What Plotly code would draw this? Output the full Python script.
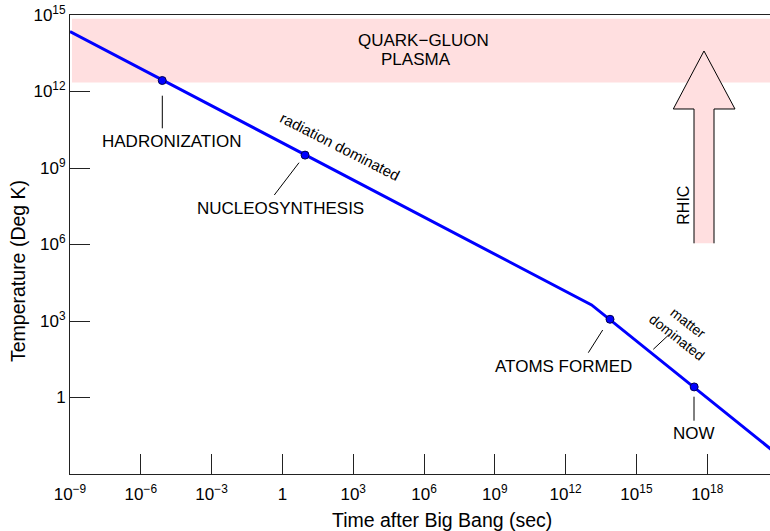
import math
import plotly.graph_objects as go

# ---------------- data ----------------
line_time = [1e-9, 1.26e13, 1e21]          # seconds
line_temp = [2.24e14, 4.27e3, 5.6e-3]      # Kelvin

event_names = ["HADRONIZATION", "NUCLEOSYNTHESIS", "ATOMS FORMED", "NOW"]
event_time = [8.1e-6, 9.1, 7.6e13, 2.8e17]
event_temp = [2.7e12, 3.2e9, 1.17e3, 2.6]

qgp_temp_range = [2.24e12, 7.1e14]          # quark-gluon plasma band

x_tickvals = [1e-9, 1e-6, 1e-3, 1, 1e3, 1e6, 1e9, 1e12, 1e15, 1e18]
x_ticktext = ["10<sup>−9</sup>", "10<sup>−6</sup>", "10<sup>−3</sup>", "1",
              "10<sup>3</sup>", "10<sup>6</sup>", "10<sup>9</sup>",
              "10<sup>12</sup>", "10<sup>15</sup>", "10<sup>18</sup>"]
y_tickvals = [1, 1e3, 1e6, 1e9, 1e12, 1e15]
y_ticktext = ["1", "10<sup>3</sup>", "10<sup>6</sup>", "10<sup>9</sup>",
              "10<sup>12</sup>", "10<sup>15</sup>"]

# ---------------- layout geometry ----------------
W, H = 770, 531
ML, MR, MT, MB = 70, 0, 15, 57
PW, PH = W - ML - MR, H - MT - MB
XR = [-9, 20.66]
YR = [-3, 15]
FONT = "Liberation Sans, Arial, Helvetica, sans-serif"


def px(xp):
    return (xp - ML) / PW


def py(yp):
    return (MT + PH - yp) / PH


def ylog_paper(v):
    return (math.log10(v) - YR[0]) / (YR[1] - YR[0])


fig = go.Figure()

fig.add_trace(go.Scatter(
    x=line_time, y=line_temp, mode="lines",
    line=dict(color="#0000ff", width=3), hoverinfo="skip", showlegend=False))

fig.add_trace(go.Scatter(
    x=event_time, y=event_temp, mode="markers", text=event_names,
    marker=dict(color="#0000ff", size=8, line=dict(color="#000050", width=1)),
    showlegend=False))

shapes = []
# quark-gluon plasma band
shapes.append(dict(type="rect", xref="paper", yref="paper",
                   x0=px(72), x1=1.0,
                   y0=ylog_paper(qgp_temp_range[0]), y1=ylog_paper(qgp_temp_range[1]),
                   fillcolor="#ffdfe0", line=dict(width=0), layer="below"))

# RHIC arrow (fill + open outline)
ax_l, ax_r, hd_l, hd_r, tip_x = px(694), px(714), px(673.3), px(735), px(704)
ay_b, ay_h, ay_t = py(243.3), py(109), py(51)
pts = [(ax_l, ay_b), (ax_l, ay_h), (hd_l, ay_h), (tip_x, ay_t),
       (hd_r, ay_h), (ax_r, ay_h), (ax_r, ay_b)]
path = "M " + " L ".join(f"{a:.5f},{b:.5f}" for a, b in pts)
shapes.append(dict(type="path", xref="paper", yref="paper", path=path + " Z",
                   fillcolor="#ffdfe0", line=dict(width=0)))
shapes.append(dict(type="path", xref="paper", yref="paper", path=path,
                   fillcolor="rgba(0,0,0,0)", line=dict(color="black", width=1)))

# leader lines
leaders = [((162.3, 95.7), (162.3, 128.3)),
           ((299, 162.7), (274.3, 195)),
           ((602.7, 330), (588.3, 352.7)),
           ((669.3, 334.3), (653.3, 349.3)),
           ((694, 396.7), (694, 420.7))]
for (x0, y0), (x1, y1) in leaders:
    shapes.append(dict(type="line", xref="paper", yref="paper",
                       x0=px(x0), y0=py(y0), x1=px(x1), y1=py(y1),
                       line=dict(color="black", width=1)))

annots = []


def label(text, xp, yp, size=17, angle=0):
    annots.append(dict(text=text, xref="paper", yref="paper", x=px(xp), y=py(yp),
                       xanchor="center", yanchor="middle", showarrow=False,
                       textangle=angle, font=dict(family=FONT, size=size, color="black")))


label(event_names[0], 171.5, 141.7)
label(event_names[1], 280.3, 208.3)
label(event_names[2], 563, 366)
label(event_names[3], 694.3, 433.3)
label("QUARK−GLUON", 424, 41)
label("PLASMA", 415.7, 60)
label("RHIC", 682.7, 205, size=16, angle=-90)
label("radiation dominated", 340, 146.7, size=15, angle=27)
label("matter<br>dominated", 682.8, 329.7, size=14, angle=38)
# axis titles
label("Time after Big Bang (sec)", 441.7, 520, size=19.5)
label("Temperature (Deg K)", 18, 271, size=19.5, angle=-90)

fig.update_layout(
    template="none",
    width=W, height=H,
    margin=dict(l=ML, r=MR, t=MT, b=MB, pad=0, autoexpand=False),
    paper_bgcolor="white", plot_bgcolor="white",
    font=dict(family=FONT, size=17, color="black"),
    shapes=shapes, annotations=annots, showlegend=False,
)
fig.update_xaxes(type="log", range=XR, tickvals=x_tickvals, ticktext=x_ticktext,
                 automargin=False, ticklabelstandoff=5,
                 ticks="inside", ticklen=20, tickcolor="#222", tickwidth=1,
                 showline=True, linecolor="#222", linewidth=1, mirror=True,
                 showgrid=False, zeroline=False,
                 tickfont=dict(family=FONT, size=17, color="black"))
fig.update_yaxes(type="log", range=YR, tickvals=y_tickvals, ticktext=y_ticktext,
                 automargin=False,
                 ticks="inside", ticklen=20, tickcolor="#222", tickwidth=1,
                 showline=True, linecolor="#222", linewidth=1, mirror=False,
                 showgrid=False, zeroline=False,
                 tickfont=dict(family=FONT, size=17, color="black"))

fig.write_html("out.html", config={"displayModeBar": False},
               post_script="document.body.style.margin='0';document.body.style.overflow='hidden';")
